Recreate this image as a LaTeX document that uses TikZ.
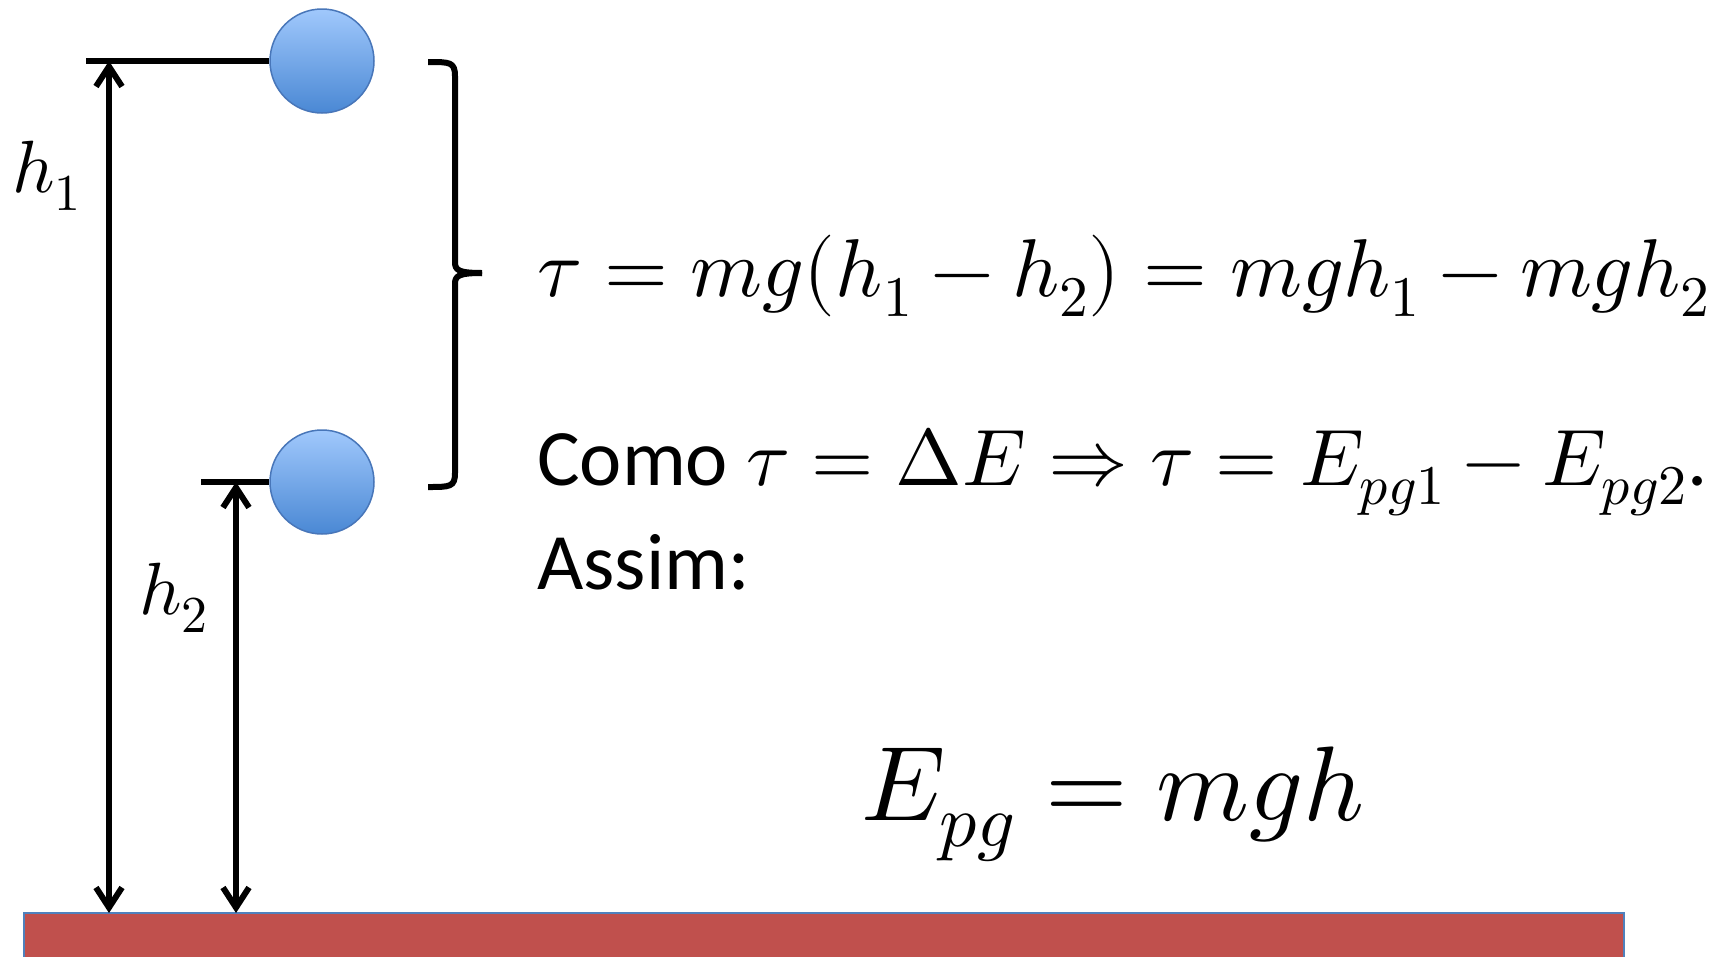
\documentclass[tikz,border=0pt]{standalone}
\usepackage{fontspec}
\usepackage{unicode-math}
\setmainfont{Carlito}
\setmathfont{Latin Modern Math}
\usetikzlibrary{arrows.meta}
\definecolor{groundfill}{HTML}{C0504D}
\definecolor{groundedge}{HTML}{4F81BD}
\definecolor{balltop}{RGB}{160,200,252}
\definecolor{ballbot}{RGB}{74,136,212}
\definecolor{balledge}{RGB}{72,118,185}
\tikzset{
  ball/.style={circle, minimum size=104pt, inner sep=0pt, draw=balledge, line width=1.5pt,
    top color=balltop, bottom color=ballbot},
  levelline/.style={line width=6.5pt, black},
  dimarrow/.style={line width=6pt, black, {Straight Barb[length=20pt,width=26pt,line width=6pt]}-{Straight Barb[length=20pt,width=26pt,line width=6pt]}},
  bracestyle/.style={line width=6pt, black, line join=round},
  txt/.style={inner sep=0pt, anchor=base west},
}
\begin{document}
\begin{tikzpicture}[x=1pt,y=-1pt]
\useasboundingbox (0,0) rectangle (1720,956);
\clip (0,0) rectangle (1720,956);
% ground
\filldraw[fill=groundfill, draw=groundedge, line width=2pt] (24,913) rectangle (1624,970);
\coordinate (g1) at (109,913);
\coordinate (g2) at (236,913);
% balls
\node[ball] (b1) at (322,61) {};
\node[ball] (b2) at (322,482) {};
\coordinate (l1) at (86,61);
\coordinate (l2) at (201,482);
\draw[levelline] (l1) -- (b1.west);
\draw[levelline] (l2) -- (b2.west);
\coordinate (t1) at (109,61);
\coordinate (t2) at (236,482);
\draw[dimarrow] (t1) -- (g1);
\draw[dimarrow] (t2) -- (g2);
% labels
\node[txt] (h1) at (12,192) {\fontsize{74}{88}\selectfont $h_1$};
\node[txt] (h2) at (139,614) {\fontsize{74}{88}\selectfont $h_2$};
% brace
\draw[bracestyle] (428,62) .. controls (450,62) and (455,62) .. (455,76) -- (455,262)
  .. controls (455,270) and (458,273) .. (482,273);
\draw[bracestyle] (482,273) .. controls (458,273) and (455,276) .. (455,284) -- (455,473)
  .. controls (455,487) and (450,487) .. (428,487);
% texts
\node[txt] (e1) at (537,296) {\fontsize{82}{98}\selectfont $\tau = mg(h_1 - h_2) = mgh_1 - mgh_2$};
\node[txt] (e2) at (537,485) {\fontsize{80}{96}\selectfont Como $\tau = \Delta E \Rightarrow \tau = E_{pg1} - E_{pg2}$.};
\node[txt] (e3) at (537,589) {\fontsize{80}{96}\selectfont Assim:};
\node[txt] (e4) at (861,820) {\fontsize{106}{126}\selectfont $E_{pg} = mgh$};
\end{tikzpicture}
\end{document}
